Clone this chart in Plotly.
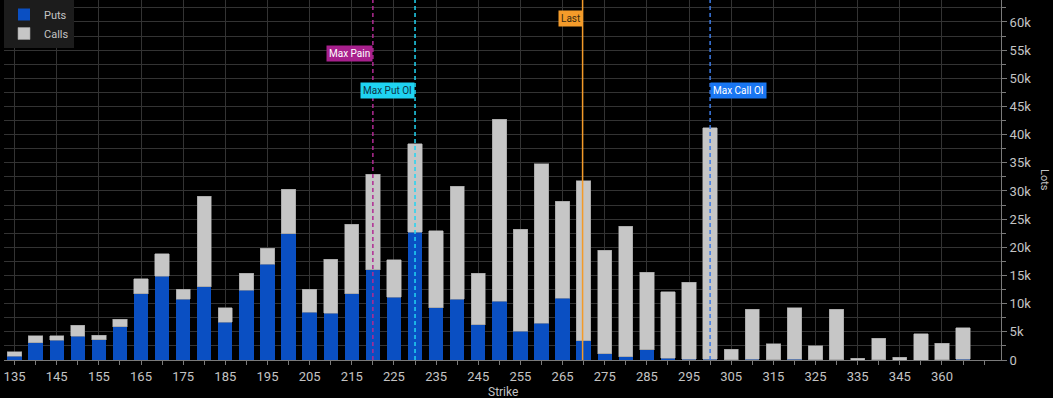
import plotly.graph_objects as go

strikes = [135, 140, 145, 150, 155, 160, 165, 170, 175, 180, 185, 190, 195, 200,
           205, 210, 215, 220, 225, 230, 235, 240, 245, 250, 255, 260, 265, 270,
           275, 280, 285, 290, 295, 300, 305, 310, 315, 320, 325, 330, 335, 340,
           345, 350, 360, 370]
puts = [700, 3100, 3500, 4200, 3600, 5900, 11800, 14900, 10800, 13000, 6700, 12400,
        17000, 22400, 8500, 8300, 11800, 16000, 11100, 22700, 9300, 10800, 6300, 10400,
        5100, 6500, 11000, 3400, 1100, 600, 1800, 350, 150, 100, 50, 100, 30, 100,
        20, 20, 0, 20, 0, 0, 20, 100]
calls = [800, 1200, 800, 2000, 800, 1300, 2600, 4000, 1800, 16100, 2600, 3000,
         2800, 7900, 4100, 9600, 12300, 17000, 6700, 15700, 13600, 20000, 9100, 32300,
         18100, 28300, 17200, 28400, 18400, 23100, 13800, 11750, 13650, 41100, 1900,
         8900, 2820, 9200, 2530, 8980, 300, 3880, 450, 4700, 2980, 5600]
labeled_strikes = [135, 145, 155, 165, 175, 185, 195, 205, 215, 225, 235, 245, 255,
                   265, 275, 285, 295, 305, 315, 325, 335, 345, 360]
y_ticks = [0, 5000, 10000, 15000, 20000, 25000, 30000, 35000, 40000, 45000, 50000,
           55000, 60000]
y_labels = ["0", "5k", "10k", "15k", "20k", "25k", "30k", "35k", "40k", "45k", "50k",
            "55k", "60k"]

max_pain = 220
max_put_oi = 230
max_call_oi = 300
last_price = 269.75


def pos(strike):
    # position of a strike on the categorical (index) scale
    for i in range(len(strikes) - 1):
        a, b = strikes[i], strikes[i + 1]
        if a <= strike <= b:
            return i + (strike - a) / (b - a)
    return len(strikes) - 1


idx = list(range(len(strikes)))
FONT = "Liberation Sans Narrow, Roboto, Liberation Sans, sans-serif"
TXT = "#c4c4c4"
GRID = "#333333"

fig = go.Figure()
fig.add_trace(go.Bar(x=idx, y=puts, name="Puts", marker=dict(color="#0a4fc2", line=dict(width=0)),
                     hovertext=[str(s) for s in strikes]))
fig.add_trace(go.Bar(x=idx, y=calls, name="Calls",
                     marker=dict(color="#c6c6c6", line=dict(width=0.6, color="#9a9a9a")),
                     hovertext=[str(s) for s in strikes]))

lines = [
    (max_pain, "#b02a93", "4px,3px", "Max Pain", 0.851, "right", "#ffffff", "#a8208d"),
    (max_put_oi, "#22d4f2", "4px,3px", "Max Put OI", 0.749, "right", "#0d3445", "#1fd3f2"),
    (last_price, "#f39a2a", "solid", "Last", 0.95, "right", "#3a2a10", "#f49b2a"),
    (max_call_oi, "#3d7be6", "4px,3px", "Max Call OI", 0.749, "left", "#ffffff", "#1976f2"),
]
for val, col, dash, label, ypos, anchor, tcol, bg in lines:
    xv = pos(val)
    fig.add_shape(type="line", xref="x", yref="paper", x0=xv, x1=xv, y0=0, y1=1,
                  line=dict(color=col, width=1.5, dash=dash))
    fig.add_annotation(x=xv, y=ypos, xref="x", yref="paper", text=label, showarrow=False,
                       xanchor=anchor, yanchor="middle", bgcolor=bg, borderpad=2,
                       font=dict(family=FONT, size=10, color=tcol))

fig.add_annotation(x=0.5, y=-0.09, xref="paper", yref="paper", text="Strike", showarrow=False,
                   xanchor="center", yanchor="middle", font=dict(family=FONT, size=12, color=TXT))
fig.add_annotation(x=1.0, xshift=44, y=0.5, xref="paper", yref="paper", text="Lots",
                   showarrow=False, textangle=90, xanchor="center", yanchor="middle",
                   font=dict(family=FONT, size=11, color=TXT))

fig.update_layout(
    width=1053, height=398,
    margin=dict(l=4, r=52, t=0, b=38),
    paper_bgcolor="#000000", plot_bgcolor="#000000",
    barmode="stack", bargap=0.32,
    font=dict(family=FONT, color=TXT, size=13),
    showlegend=True,
    legend=dict(x=0, y=1, xanchor="left", yanchor="top", bgcolor="#1c1c1c",
                traceorder="normal", font=dict(size=11, color=TXT),
                itemwidth=30, tracegroupgap=0),
    xaxis=dict(range=[-0.5, 46.8], tickmode="array",
               tickvals=[strikes.index(s) for s in labeled_strikes],
               ticktext=[str(s) for s in labeled_strikes],
               showgrid=True, gridcolor=GRID, gridwidth=1,
               showline=True, linecolor="#7a7a7a", linewidth=1,
               ticks="outside", ticklen=4, tickcolor="#7a7a7a",
               minor=dict(dtick=1, tick0=0, ticks="outside", ticklen=4, tickcolor="#7a7a7a", showgrid=False),
               tickfont=dict(size=13, color=TXT), zeroline=False),
    yaxis=dict(side="right", range=[0, 63900], tickmode="array", tickvals=y_ticks,
               ticktext=y_labels, showgrid=True, gridcolor=GRID, gridwidth=1,
               minor=dict(dtick=2500, tick0=0, showgrid=True, gridcolor=GRID, ticks="outside",
                          ticklen=4, tickcolor="#7a7a7a"),
               showline=True, linecolor="#7a7a7a", linewidth=1,
               ticks="outside", ticklen=5, tickcolor="#7a7a7a",
               tickfont=dict(size=13, color=TXT), zeroline=False),
)

fig.write_html("out.html", config={"displayModeBar": False},
               post_script="document.body.style.margin='0';document.body.style.background='#000';")
